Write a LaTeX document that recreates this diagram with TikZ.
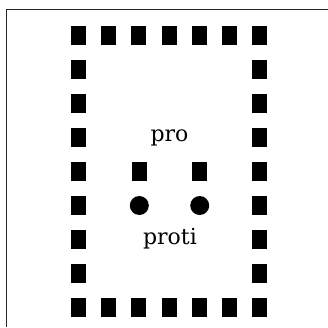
\documentclass[tikz,border=0pt]{standalone}
\usepackage{fontspec}
\setmainfont{DejaVu Serif}
\begin{document}
\begin{tikzpicture}[x=1pt,y=-1pt,
  sq/.style={fill=black, draw=none, inner sep=0pt, minimum width=15pt, minimum height=18.5pt},
  dot/.style={circle, fill=black, draw=none, inner sep=0pt, minimum size=19pt},
  lbl/.style={font=\fontsize{22}{26}\selectfont, inner sep=0pt, anchor=base},
  frameline/.style={line width=1.3pt, draw=black!85}]
\useasboundingbox (0,0) rectangle (328,327);
\coordinate (fbl) at (6.5,327);
\coordinate (ftl) at (6.5,9.5);
\coordinate (ftr) at (328,9.5);
\draw[frameline] (fbl) -- (ftl) -- (ftr);
% perimeter squares
\foreach \i in {1,...,7}{
  \node[sq] (t\i) at ({78.5+30.17*(\i-1)},35.25) {};
  \node[sq] (b\i) at ({78.5+30.17*(\i-1)},307.25) {};
}
\foreach \j in {2,...,8}{
  \node[sq] (l\j) at (78.5,{35.25+34*(\j-1)}) {};
  \node[sq] (r\j) at (259.5,{35.25+34*(\j-1)}) {};
}
% inner squares and dots
\node[sq] (ia) at (139.3,171.25) {};
\node[sq] (ib) at (199.7,171.25) {};
\node[dot] (da) at (139.3,205.5) {};
\node[dot] (db) at (199.7,205.5) {};
% labels
\node[lbl] (pro) at (169.5,141.5) {pro};
\node[lbl] (proti) at (170,244.5) {proti};
\end{tikzpicture}
\end{document}
